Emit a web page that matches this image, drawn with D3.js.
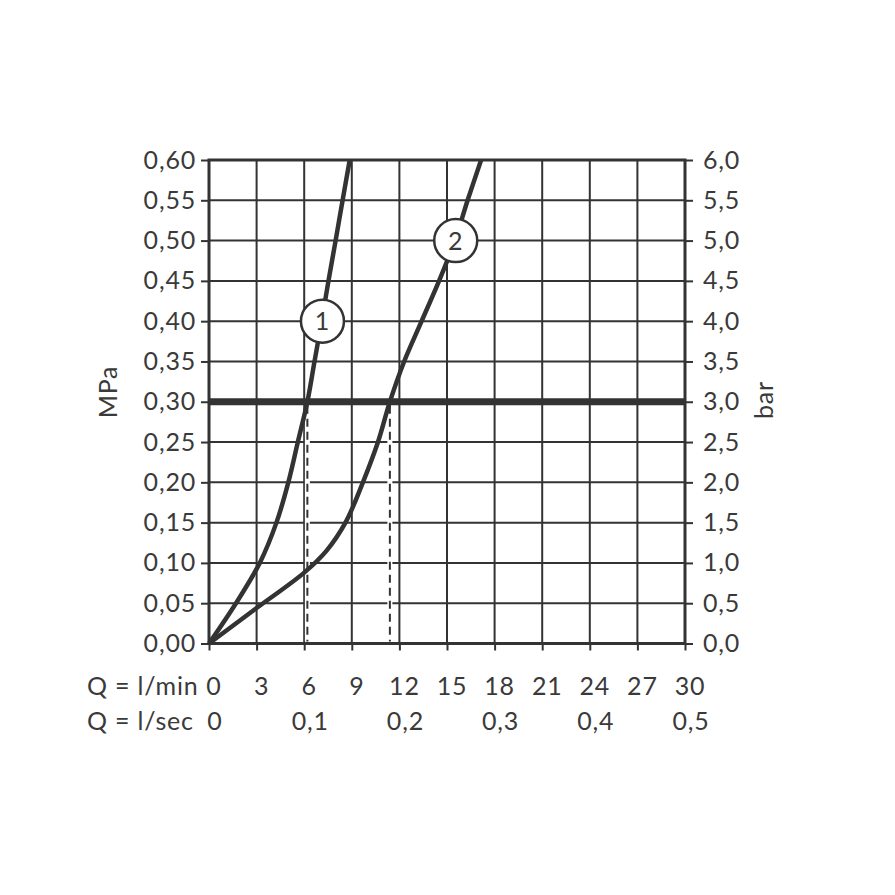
<!DOCTYPE html>
<html>
<head>
<meta charset="utf-8">
<script src="https://cdn.jsdelivr.net/npm/d3@7"></script>
<style>
  html, body { margin: 0; padding: 0; background: #fff; }
  text { font-family: Lato, "DejaVu Sans", sans-serif; fill: #3a3a3a; letter-spacing: 0.8px; }
</style>
</head>
<body>
<svg id="chart" width="895" height="895"></svg>
<script>
// flow Q in l/min, pressure p in MPa
const curve1 = [
  [0, 0], [1.7, 0.05], [3.2, 0.10], [4.25, 0.15], [5.0, 0.20], [5.6, 0.25],
  [6.2, 0.30], [6.65, 0.35], [7.1, 0.40], [7.53, 0.45], [7.98, 0.50], [8.42, 0.55], [8.87, 0.60]
];
const curve2 = [
  [0, 0], [3.0, 0.044], [6.0, 0.088], [7.4, 0.115], [8.6, 0.15], [9.7, 0.20], [10.65, 0.25],
  [11.4, 0.30], [12.3, 0.35], [13.4, 0.40], [14.5, 0.45], [15.5, 0.50], [16.3, 0.55], [17.15, 0.60]
];
const curveLabels = [
  { name: "1", q: 7.15, p: 0.40 },
  { name: "2", q: 15.55, p: 0.50 }
];
const refPressure = 0.30;            // thick line
const dropLines = [6.2, 11.4];       // dashed verticals at the 0,30 crossings

const qMinTicks = [0, 3, 6, 9, 12, 15, 18, 21, 24, 27, 30];
const qSecTicks = [0, 0.1, 0.2, 0.3, 0.4, 0.5];
const mpaTicks = [0, 0.05, 0.10, 0.15, 0.20, 0.25, 0.30, 0.35, 0.40, 0.45, 0.50, 0.55, 0.60];
const barTicks = [0, 0.5, 1, 1.5, 2, 2.5, 3, 3.5, 4, 4.5, 5, 5.5, 6];

const ink = "#333";
const fs = 25;
const svg = d3.select("#chart");

const x = d3.scaleLinear().domain([0, 30]).range([209, 685]);
const y = d3.scaleLinear().domain([0, 0.6]).range([643.5, 160]);
const yBar = d3.scaleLinear().domain([0, 6]).range([643.5, 160]);

const comma = (d, n) => d.toFixed(n).replace(".", ",");

//---------- grid ----------
const grid = svg.append("g").attr("stroke", ink).attr("stroke-width", 2);
grid.selectAll("line.v").data(qMinTicks).enter().append("line")
  .attr("x1", d => x(d)).attr("x2", d => x(d))
  .attr("y1", y(0)).attr("y2", y(0.6));
grid.selectAll("line.h").data(mpaTicks).enter().append("line")
  .attr("x1", x(0)).attr("x2", x(30))
  .attr("y1", d => y(d)).attr("y2", d => y(d));

//---------- axes (ticks + labels) ----------
const leftAxis = d3.axisLeft(y).tickValues(mpaTicks).tickSize(8).tickPadding(5)
  .tickFormat(d => comma(d, 2));
const rightAxis = d3.axisRight(yBar).tickValues(barTicks).tickSize(8).tickPadding(10)
  .tickFormat(d => comma(d, 1));
const bottomAxis = d3.axisBottom(x).tickValues(qMinTicks).tickSize(7).tickFormat("");

function styleAxis(g) {
  g.select(".domain").remove();
  g.selectAll(".tick line").attr("stroke", ink).attr("stroke-width", 2);
  g.selectAll(".tick text").attr("font-size", fs).attr("fill", "#3a3a3a")
    .attr("font-family", "Lato, 'DejaVu Sans', sans-serif");
}
svg.append("g").attr("transform", `translate(${x(0)},0)`).call(leftAxis).call(styleAxis);
svg.append("g").attr("transform", `translate(${x(30)},0)`).call(rightAxis).call(styleAxis);
svg.append("g").attr("transform", `translate(0,${y(0)})`).call(bottomAxis).call(styleAxis);

// frame
svg.append("rect")
  .attr("x", x(0)).attr("y", y(0.6))
  .attr("width", x(30) - x(0)).attr("height", y(0) - y(0.6))
  .attr("fill", "none").attr("stroke", ink).attr("stroke-width", 3);

// 0,30 MPa line
svg.append("line")
  .attr("x1", x(0)).attr("x2", x(30))
  .attr("y1", y(refPressure)).attr("y2", y(refPressure))
  .attr("stroke", ink).attr("stroke-width", 7);

// dashed drop lines
const drops = svg.append("g");
drops.selectAll("line.halo").data(dropLines).enter().append("line")
  .attr("x1", d => x(d)).attr("x2", d => x(d))
  .attr("y1", y(refPressure) + 4).attr("y2", y(0) - 2)
  .attr("stroke", "#fff").attr("stroke-width", 5);
drops.selectAll("line.dash").data(dropLines).enter().append("line")
  .attr("x1", d => x(d)).attr("x2", d => x(d))
  .attr("y1", y(refPressure) + 4).attr("y2", y(0) - 2)
  .attr("stroke", ink).attr("stroke-width", 2)
  .attr("stroke-dasharray", "8,5");

//---------- curves ----------
const line = d3.line()
  .x(d => x(d[0])).y(d => y(d[1]))
  .curve(d3.curveCatmullRom.alpha(0.5));
svg.selectAll("path.curve").data([curve1, curve2]).enter().append("path")
  .attr("d", line)
  .attr("fill", "none").attr("stroke", ink).attr("stroke-width", 4.5)
  .attr("stroke-linejoin", "round");

// numbered circles
const lab = svg.selectAll("g.lab").data(curveLabels).enter().append("g")
  .attr("transform", d => `translate(${x(d.q)},${y(d.p)})`);
lab.append("circle").attr("r", 21.5)
  .attr("fill", "#fff").attr("stroke", ink).attr("stroke-width", 2.5);
lab.append("text").text(d => d.name)
  .attr("text-anchor", "middle").attr("dy", "0.36em").attr("font-size", fs);

//---------- bottom rows ----------
svg.append("text").attr("x", 87).attr("y", 695).attr("font-size", fs).text("Q = l/min");
svg.append("text").attr("x", 87).attr("y", 730).attr("font-size", fs).text("Q = l/sec");

svg.selectAll("text.qmin").data(qMinTicks).enter().append("text")
  .attr("x", d => x(d) + 5).attr("y", 695)
  .attr("text-anchor", "middle").attr("font-size", fs)
  .text(d => d);
svg.selectAll("text.qsec").data(qSecTicks).enter().append("text")
  .attr("x", d => x(d * 60) + 6).attr("y", 730)
  .attr("text-anchor", "middle").attr("font-size", fs)
  .text(d => d === 0 ? "0" : comma(d, 1));

// unit labels
svg.append("text").attr("font-size", fs).attr("text-anchor", "middle")
  .attr("transform", "translate(117,392) rotate(-90)").text("MPa");
svg.append("text").attr("font-size", fs).attr("text-anchor", "middle")
  .attr("transform", "translate(773,400) rotate(-90)").text("bar");
</script>
</body>
</html>
